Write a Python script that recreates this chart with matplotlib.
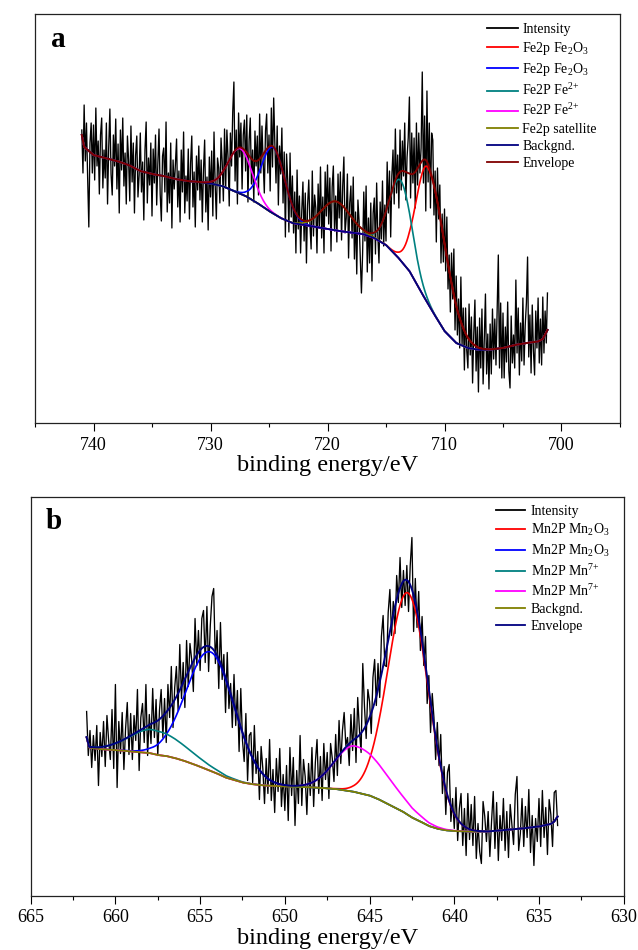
import numpy as np
import matplotlib
matplotlib.use('Agg')
import matplotlib.pyplot as plt
from matplotlib.ticker import MultipleLocator

plt.rcParams['font.family'] = ['Liberation Serif', 'DejaVu Serif']
plt.rcParams['mathtext.default'] = 'regular'

# ---------------- Panel a : Fe 2p ----------------
a_start, a_step = 741.0, 0.1
a_intensity = [
    293, 250, 318, 262, 300, 245, 196, 280, 300, 250,
    298, 243, 315, 257, 282, 229, 288, 305, 235, 273,
    245, 300, 219, 276, 314, 249, 228, 288, 257, 304,
    234, 279, 210, 293, 253, 305, 237, 270, 219, 287,
    263, 222, 297, 241, 280, 210, 268, 287, 226, 248,
    290, 231, 261, 203, 273, 301, 220, 265, 238, 280,
    207, 274, 240, 288, 218, 260, 294, 229, 202, 267,
    275, 231, 301, 211, 250, 220, 280, 195, 263, 234,
    259, 284, 216, 252, 201, 273, 231, 291, 210, 247,
    222, 274, 204, 260, 287, 216, 251, 196, 267, 233,
    277, 223, 263, 201, 253, 283, 211, 246, 193, 266,
    226, 272, 207, 291, 238, 204, 265, 255, 220, 285,
    261, 222, 294, 236, 293, 265, 217, 290, 257, 311,
    341, 242, 293, 219, 310, 266, 300, 234, 288, 303,
    252, 308, 221, 282, 305, 239, 273, 221, 292, 257,
    287, 228, 309, 250, 297, 261, 230, 292, 309, 250,
    288, 232, 315, 256, 325, 279, 240, 297, 218, 277,
    249, 295, 220, 271, 186, 269, 243, 191, 270, 206,
    247, 190, 231, 170, 253, 194, 227, 170, 212, 241,
    182, 230, 160, 218, 243, 198, 174, 252, 187, 228,
    215, 170, 239, 195, 256, 185, 226, 170, 251, 207,
    258, 199, 245, 172, 236, 257, 192, 227, 181, 249,
    205, 251, 183, 237, 266, 190, 205, 249, 165, 220,
    237, 185, 246, 164, 211, 149, 223, 202, 166, 130,
    169, 231, 182, 237, 151, 205, 160, 220, 142, 210,
    225, 169, 240, 188, 160, 221, 184, 242, 177, 218,
    182, 261, 210, 252, 186, 247, 273, 219, 294, 230,
    268, 215, 293, 233, 282, 247, 300, 223, 266, 285,
    326, 225, 290, 240, 285, 215, 300, 238, 290, 250,
    275, 351, 240, 307, 212, 332, 241, 300, 215, 290,
    283, 208, 252, 181, 255, 204, 238, 160, 209, 161,
    214, 152, 206, 134, 168, 111, 170, 124, 174, 93,
    147, 88, 124, 75, 146, 78, 115, 53, 115, 73,
    55, 119, 68, 106, 40, 89, 123, 52, 96, 31,
    105, 55, 114, 39, 84, 129, 49, 89, 34, 99,
    49, 114, 64, 104, 58, 112, 168, 55, 120, 45,
    110, 45, 96, 61, 121, 52, 35, 107, 60, 88,
    55, 143, 70, 115, 48, 100, 62, 125, 58, 98,
    120, 166, 66, 108, 50, 118, 72, 48, 112, 75,
    125, 60, 104, 58, 126, 70, 112, 80, 130,
]
a_bg_ev = [741.0, 740.8, 740, 739, 738, 737, 736, 735, 734, 733, 732, 731, 730,
           729, 728, 727, 726, 725, 724, 723, 722, 721, 720, 719, 718, 717, 716,
           715, 714, 713, 712, 711, 710, 709, 708, 707, 706, 705, 704, 703, 702,
           701.6, 701.2]
a_bg_h = [288, 276, 268, 265, 262, 258, 252, 249, 247, 244, 242, 241, 239.5,
          237, 232, 227, 220, 212, 205, 200, 198, 196, 194, 192, 190.5, 189, 185,
          178, 166, 152, 131, 111, 92, 80, 75, 73, 73.5, 75, 78, 80, 81.5,
          84, 93]
a_labels = ['Fe2p Fe$_2$O$_3$', 'Fe2p Fe$_2$O$_3$', 'Fe2P Fe$^{2{+}}$',
            'Fe2P Fe$^{2{+}}$', 'Fe2p satellite']
a_centers = [711.42, 724.65, 713.75, 727.45, 719.3]
a_heights = [136, 66, 80, 45, 29]
a_width_hi = [1.0, 1.0, 0.95, 1.0, 1.2]
a_width_lo = [1.5, 1.0, 0.95, 1.0, 1.2]
a_colors = ['#FF0000', '#0000FF', '#008080', '#FF00FF', '#808000']

# ---------------- Panel b : Mn 2p ----------------
b_start, b_step = 661.7, 0.1
b_intensity = [
    184, 140, 165, 128, 160, 135, 170,
    110, 163, 139, 174, 129, 180, 155, 136, 186, 127,
    211, 108, 174, 142, 183, 126, 167, 193, 141, 182,
    136, 180, 155, 206, 125, 178, 192, 153, 211, 140,
    181, 152, 207, 158, 196, 140, 185, 206, 158, 197,
    153, 211, 178, 229, 168, 208, 229, 185, 251, 197,
    233, 188, 255, 209, 252, 236, 204, 277, 230, 265,
    225, 277, 285, 233, 289, 224, 270, 299, 307, 232,
    265, 207, 273, 216, 241, 183, 243, 187, 212, 168,
    221, 170, 205, 144, 207, 155, 134, 182, 115, 160,
    163, 113, 170, 122, 144, 96, 149, 127, 92, 137,
    102, 156, 95, 126, 83, 137, 104, 147, 89, 121,
    85, 130, 75, 148, 100, 138, 70, 125, 92, 160,
    90, 136, 119, 81, 132, 100, 148, 89, 133, 156,
    102, 139, 95, 152, 116, 143, 97, 152, 137, 114,
    161, 120, 175, 132, 165, 183, 150, 158, 130, 181,
    145, 187, 133, 198, 166, 143, 232, 189, 157, 206,
    194, 162, 218, 236, 190, 232, 198, 259, 280, 230,
    229, 283, 306, 260, 294, 262, 320, 293, 338, 288,
    325, 290, 330, 284, 330, 358, 264, 317, 268, 304,
    245, 279, 230, 259, 192, 220, 163, 202, 178, 136,
    173, 130, 161, 102, 129, 81, 123, 131, 74, 97,
    67, 108, 55, 87, 102, 50, 87, 40, 102, 56,
    91, 50, 99, 37, 72, 44, 32, 94, 79, 54,
    84, 39, 74, 104, 47, 93, 35, 80, 55, 97,
    45, 84, 38, 91, 71, 51, 101, 119, 45, 62,
    97, 49, 89, 58, 106, 43, 80, 30, 77, 54,
    97, 49, 105, 58, 88, 41, 96, 81, 49, 103,
    105, 70,
]
b_bg_ev = [661.7, 661.55, 661, 660, 659, 658, 657.5, 657, 656.5, 656, 655.5, 655,
           654.5, 654, 653.5, 653, 652.5, 652, 651.5, 651, 650, 649, 648, 647,
           646, 645.5, 645, 644.5, 644, 643.5, 643, 642.5, 642, 641.5, 641, 640.5,
           640, 639, 638, 637, 636, 635, 634.3, 634.1, 633.9]
b_bg_h = [158, 148, 146.5, 145.5, 144, 142.5, 140.5, 139.5, 137.5, 135, 132, 128.8,
          125.3, 122, 118, 115.5, 113, 111.5, 110.5, 109.8, 109.2, 108.6, 107.8, 106.5,
          104, 102, 100, 96.5, 92.2, 88, 83.5, 78, 74, 69.5, 66.8, 65.2,
          64.5, 63.8, 64, 65.5, 67, 69, 71.5, 74, 79]
b_labels = ['Mn2P Mn$_2$O$_3$', 'Mn2P Mn$_2$O$_3$', 'Mn2P Mn$^{7{+}}$',
            'Mn2P Mn$^{7{+}}$']
b_centers = [642.72, 654.38, 657.76, 645.85]
b_heights = [222, 119, 24, 46]
b_width_hi = [1.2, 1.42, 1.4, 1.2]
b_width_lo = [1.2, 1.42, 1.9, 1.9]
b_colors = ['#FF0000', '#0000FF', '#008080', '#FF00FF']


def peak(x, c, h, w_hi, w_lo):
    w = np.where(x >= c, w_hi, w_lo)
    return h * np.exp(-(x - c) ** 2 / (2 * w ** 2))


def draw_panel(ax, start, step, inten, bg_ev, bg_h, centers, heights, w_hi, w_lo,
               colors, labels, bg_color, env_color):
    inten = np.asarray(inten, dtype=float)
    x = start - step * np.arange(len(inten))
    handles = []
    h, = ax.plot(x, inten, color='black', lw=0.95, zorder=1, label='Intensity')
    handles.append(h)
    xf = np.linspace(x[0], x[-1], 1500)
    bev = np.asarray(bg_ev, float)
    bh = np.asarray(bg_h, float)
    order = np.argsort(bev)
    bg = np.interp(xf, bev[order], bh[order])
    total = bg.copy()
    for c, hh, wh, wl, col, lab in zip(centers, heights, w_hi, w_lo, colors, labels):
        p = peak(xf, c, hh, wh, wl)
        total += p
        ln, = ax.plot(xf, bg + p, color=col, lw=1.2, zorder=2, label=lab)
        handles.append(ln)
    ln, = ax.plot(xf, bg, color=bg_color, lw=1.3, zorder=3, label='Backgnd.')
    handles.append(ln)
    ln, = ax.plot(xf, total, color=env_color, lw=1.4, zorder=4, label='Envelope')
    handles.append(ln)
    return handles


fig = plt.figure(figsize=(6.38, 9.5), dpi=100)
W, H = 638.0, 950.0
ax_a = fig.add_axes([35 / W, 1 - 423 / H, 585 / W, 409 / H])
ax_b = fig.add_axes([30.7 / W, 1 - 895.5 / H, 593 / W, 398.5 / H])

hA = draw_panel(ax_a, a_start, a_step, a_intensity, a_bg_ev, a_bg_h, a_centers,
                a_heights, a_width_hi, a_width_lo, a_colors, a_labels,
                '#000080', '#800000')
hB = draw_panel(ax_b, b_start, b_step, b_intensity, b_bg_ev, b_bg_h, b_centers,
                b_heights, b_width_hi, b_width_lo, b_colors, b_labels,
                '#808000', '#000080')

ax_a.set_xlim(745, 695)
ax_a.set_ylim(0, 409)
ax_a.xaxis.set_major_locator(MultipleLocator(10))
ax_a.xaxis.set_minor_locator(MultipleLocator(5))
ax_b.set_xlim(665, 630)
ax_b.set_ylim(0, 398.5)
ax_b.xaxis.set_major_locator(MultipleLocator(5))
ax_b.xaxis.set_minor_locator(MultipleLocator(2.5))

for ax in (ax_a, ax_b):
    ax.set_yticks([])
    ax.tick_params(axis='x', which='major', direction='out', length=6, width=0.8,
                   labelsize=13, pad=4, top=False)
    ax.tick_params(axis='x', which='minor', direction='out', length=3, width=0.8,
                   top=False)
    for s in ax.spines.values():
        s.set_linewidth(0.9)
        s.set_color('#222222')
    ax.set_xlabel('binding energy/eV', fontsize=17.5, labelpad=1)

leg_a = ax_a.legend(handles=hA, loc='upper left', bbox_to_anchor=(487 / W, 1 - 23 / H),
                    bbox_transform=fig.transFigure, frameon=False, fontsize=10,
                    borderpad=0, borderaxespad=0, handlelength=2.2,
                    handletextpad=0.35, labelspacing=0.3)
leg_b = ax_b.legend(handles=hB, loc='upper left', bbox_to_anchor=(496 / W, 1 - 505 / H),
                    bbox_transform=fig.transFigure, frameon=False, fontsize=10,
                    borderpad=0, borderaxespad=0, handlelength=2.1,
                    handletextpad=0.4, labelspacing=0.3)
for leg in (leg_a, leg_b):
    for l in leg.get_lines():
        l.set_linewidth(1.3)

fig.text(50.5 / W, 1 - 47 / H, 'a', fontsize=21, fontweight='bold', va='baseline')
fig.text(46 / W, 1 - 529 / H, 'b', fontsize=21, fontweight='bold', va='baseline')

fig.savefig('out.png', dpi=100)
